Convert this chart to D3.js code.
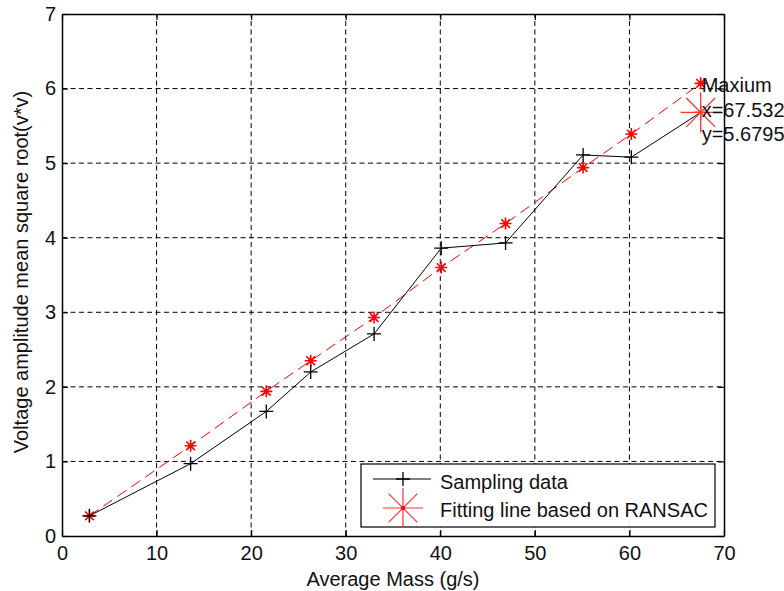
<!DOCTYPE html>
<html>
<head>
<meta charset="utf-8">
<script src="https://cdn.jsdelivr.net/npm/d3@7"></script>
<style>
  body { margin: 0; background: #fff; }
  text { font-family: "Liberation Sans", Arial, sans-serif; fill: #111; }
</style>
</head>
<body>
<svg id="chart"></svg>
<script>
const massValues = [2.9, 13.6, 21.6, 26.3, 33.0, 40.1, 46.9, 55.1, 60.2, 67.532]
const sampleValues = [0.27, 0.97, 1.67, 2.20, 2.71, 3.86, 3.93, 5.11, 5.08, 5.6795]
const fitValues = [0.27, 1.21, 1.94, 2.35, 2.93, 3.60, 4.19, 4.94, 5.39, 6.07]
const xTicks = [0, 10, 20, 30, 40, 50, 60, 70]
const yTicks = [0, 1, 2, 3, 4, 5, 6, 7]
const maxLabel = ["Maxium", "x=67.532", "y=5.6795"]
const legendLabels = ["Sampling data", "Fitting line based on RANSAC"]

const width = 784
const height = 591
const margin = { top: 14, right: 60, bottom: 55, left: 62 }

const svg = d3.select('#chart')
    .attr("width", width)
    .attr("height", height)

const x = d3.scaleLinear().domain([0, 70]).range([margin.left, width - margin.right])
const y = d3.scaleLinear().domain([0, 7]).range([height - margin.bottom, margin.top])

const data = massValues.map((m, i) => ({ m: m, s: sampleValues[i], f: fitValues[i] }))

// grid
svg.append('g').selectAll('line')
    .data(xTicks.slice(1, -1))
    .enter().append('line')
        .attr("x1", d => x(d)).attr("x2", d => x(d))
        .attr("y1", y(0)).attr("y2", y(7))
        .attr("stroke", "#000").attr("stroke-dasharray", "5,3.5")
svg.append('g').selectAll('line')
    .data(yTicks.slice(1, -1))
    .enter().append('line')
        .attr("x1", x(0)).attr("x2", x(70))
        .attr("y1", d => y(d)).attr("y2", d => y(d))
        .attr("stroke", "#000").attr("stroke-dasharray", "5,3.5")

// axes, ticks inward on every side
const fontSize = "20px"
const bottomAxis = svg.append('g')
    .attr("transform", `translate(0,${y(0)})`)
    .call(d3.axisBottom(x).tickValues(xTicks).tickSize(-6).tickPadding(10).tickSizeOuter(0))
const leftAxis = svg.append('g')
    .attr("transform", `translate(${x(0)},0)`)
    .call(d3.axisLeft(y).tickValues(yTicks).tickFormat(d3.format("d")).tickSize(-6).tickPadding(6).tickSizeOuter(0))
const topAxis = svg.append('g')
    .attr("transform", `translate(0,${y(7)})`)
    .call(d3.axisTop(x).tickValues(xTicks).tickSize(-6).tickFormat("").tickSizeOuter(0))
const rightAxis = svg.append('g')
    .attr("transform", `translate(${x(70)},0)`)
    .call(d3.axisRight(y).tickValues(yTicks).tickSize(-6).tickFormat("").tickSizeOuter(0))

;[bottomAxis, leftAxis, topAxis, rightAxis].forEach(a => {
    a.select('.domain').attr("stroke", "#000").attr("stroke-width", 1.5)
    a.selectAll('.tick line').attr("stroke", "#000").attr("stroke-width", 1.2)
    a.selectAll('text').style("font-size", fontSize).style("font-family", "'Liberation Sans', Arial, sans-serif").attr("fill", "#111")
})

// axis titles
svg.append('text')
    .attr("x", (x(0) + x(70)) / 2)
    .attr("y", 586)
    .attr("text-anchor", "middle")
    .style("font-size", fontSize)
    .text("Average Mass (g/s)")
svg.append('text')
    .attr("transform", `translate(28,272) rotate(-90)`)
    .attr("text-anchor", "middle")
    .style("font-size", fontSize)
    .text("Voltage amplitude mean square root(v*v)")

// marker helpers
function plusMarker(g, cx, cy, r, color) {
    g.append('path')
        .attr("d", `M${cx - r},${cy}H${cx + r}M${cx},${cy - r}V${cy + r}`)
        .attr("stroke", color).attr("stroke-width", 1.3).attr("fill", "none")
}
function starMarker(g, cx, cy, r, color, w) {
    const d = r * 0.72
    g.append('path')
        .attr("d", `M${cx - r},${cy}H${cx + r}M${cx},${cy - r}V${cy + r}` +
            `M${cx - d},${cy - d}L${cx + d},${cy + d}M${cx - d},${cy + d}L${cx + d},${cy - d}`)
        .attr("stroke", color).attr("stroke-width", w).attr("fill", "none")
}

// fitting line
svg.append('path')
    .datum(data)
    .attr("d", d3.line().x(d => x(d.m)).y(d => y(d.f)))
    .attr("fill", "none")
    .attr("stroke", "#ff0000")
    .attr("stroke-width", 1)
    .attr("stroke-dasharray", "11,6")
const fitMarks = svg.append('g')
data.forEach(d => starMarker(fitMarks, x(d.m), y(d.f), 6, "#ff0000", 1.6))

// sampling line
svg.append('path')
    .datum(data)
    .attr("d", d3.line().x(d => x(d.m)).y(d => y(d.s)))
    .attr("fill", "none")
    .attr("stroke", "#000")
    .attr("stroke-width", 1)
const sampleMarks = svg.append('g')
data.forEach(d => plusMarker(sampleMarks, x(d.m), y(d.s), 7, "#000"))

// maximum marker and label
const last = data[data.length - 1]
starMarker(svg, x(last.m), y(last.s), 20, "#ff3333", 1.3)
svg.append('g').selectAll('text')
    .data(maxLabel)
    .enter().append('text')
        .attr("x", x(last.m) + 1)
        .attr("y", (d, i) => 92 + i * 24.5)
        .style("font-size", fontSize)
        .text(d => d)

// legend
const lg = svg.append('g')
lg.append('rect')
    .attr("x", 361).attr("y", 464)
    .attr("width", 354).attr("height", 63)
    .attr("fill", "#fff").attr("stroke", "#000").attr("stroke-width", 1.2)
lg.append('line')
    .attr("x1", 373).attr("x2", 431).attr("y1", 479).attr("y2", 479)
    .attr("stroke", "#000")
plusMarker(lg, 403, 479, 7, "#000")
starMarker(lg, 403, 508, 20, "#ff3333", 1.2)
lg.append('circle').attr("cx", 403).attr("cy", 508).attr("r", 2).attr("fill", "#ff0000")
lg.selectAll('text.leg')
    .data(legendLabels)
    .enter().append('text')
        .attr("class", "leg")
        .attr("x", 440)
        .attr("y", (d, i) => 489 + i * 28)
        .style("font-size", fontSize)
        .text(d => d)
</script>
</body>
</html>
